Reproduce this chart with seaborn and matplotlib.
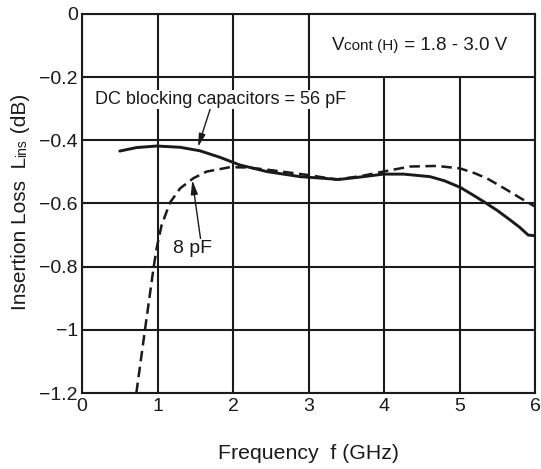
import matplotlib
matplotlib.use("Agg")
import matplotlib.pyplot as plt
import seaborn as sns
import pandas as pd
from matplotlib.patches import Rectangle

# ---- data ----
freq_56pF = [0.5, 0.72, 0.99, 1.3, 1.56, 1.83, 2.09, 2.45, 2.89, 3.24, 3.4, 3.73,
             3.99, 4.26, 4.61, 4.8, 5.01, 5.15, 5.32, 5.5, 5.67, 5.8, 5.91, 6.0]
loss_56pF = [-0.434, -0.423, -0.418, -0.422, -0.433, -0.454, -0.478, -0.499, -0.515,
             -0.521, -0.524, -0.515, -0.507, -0.507, -0.515, -0.528, -0.549, -0.569,
             -0.594, -0.622, -0.652, -0.676, -0.700, -0.702]
freq_8pF = [0.72, 0.834, 0.95, 0.99, 1.055, 1.166, 1.3, 1.475, 1.65, 1.96, 2.2, 2.49,
            3.0, 3.37, 3.7, 3.99, 4.34, 4.7, 5.01, 5.2, 5.36, 5.5, 5.67, 5.8, 5.93, 6.0]
loss_8pF = [-1.2, -1.0, -0.8, -0.74, -0.668, -0.597, -0.552, -0.520, -0.499, -0.485,
            -0.486, -0.494, -0.510, -0.524, -0.513, -0.499, -0.483, -0.481, -0.489,
            -0.504, -0.520, -0.539, -0.563, -0.582, -0.600, -0.610]
x_ticks = [0, 1, 2, 3, 4, 5, 6]
y_ticks = [0, -0.2, -0.4, -0.6, -0.8, -1.0, -1.2]
y_tick_labels = ["0", "\u22120.2", "\u22120.4", "\u22120.6", "\u22120.8", "\u22121", "\u22121.2"]

INK = "#1a1a1a"
W, H = 541, 469

sns.set_theme(style="white")
plt.rcParams["font.family"] = ["Liberation Sans", "DejaVu Sans"]

fig = plt.figure(figsize=(W / 100, H / 100), dpi=100)
ax = fig.add_axes([82 / W, 1 - 393 / H, 453 / W, 379 / H])

df56 = pd.DataFrame({"f": freq_56pF, "L": loss_56pF})
df8 = pd.DataFrame({"f": freq_8pF, "L": loss_8pF})
sns.lineplot(data=df56, x="f", y="L", ax=ax, color=INK, lw=2.1, zorder=5)
sns.lineplot(data=df8, x="f", y="L", ax=ax, color=INK, lw=1.8, zorder=5,
             linestyle=(0, (4.2, 2.2)))

ax.set_xlim(0, 6)
ax.set_ylim(-1.2, 0)
ax.set_xticks(x_ticks)
ax.set_xticklabels([str(t) for t in x_ticks])
ax.set_yticks(y_ticks)
ax.set_yticklabels(y_tick_labels)
ax.grid(True, color=INK, lw=1.5, zorder=1)
ax.set_axisbelow(True)
for s in ax.spines.values():
    s.set_color(INK)
    s.set_linewidth(1.5)
ax.tick_params(axis="both", length=0, labelsize=14, colors=INK)
ax.tick_params(axis="x", pad=3.5)
ax.tick_params(axis="y", pad=3)

# x label
ax.set_xlabel("Frequency  f (GHz)", fontsize=15.3, color=INK)
ax.xaxis.set_label_coords(0.501, (393 - 459) / 379)
ax.xaxis.label.set_va("baseline")
ax.set_ylabel("")

# y label built from pieces so the subscript sits on the baseline
t1 = fig.text(26 / W, (H - 310) / H, "Insertion Loss  L", rotation=90,
              rotation_mode="anchor", ha="left", va="baseline", fontsize=15, color=INK)
t2 = ax.annotate("ins", xy=(26 / W, 1.0), xycoords=("figure fraction", t1),
                 rotation=90, rotation_mode="anchor", ha="left", va="baseline",
                 fontsize=10, color=INK, annotation_clip=False)
ax.annotate(" (dB)", xy=(26 / W, 1.0), xycoords=("figure fraction", t2),
            rotation=90, rotation_mode="anchor", ha="left", va="baseline",
            fontsize=15, color=INK, annotation_clip=False)

# condition box in the upper right cell
ax.add_patch(Rectangle((3, -0.2), 3, 0.2, facecolor="white", edgecolor=INK,
                       lw=1.5, zorder=3, clip_on=False))
v1 = ax.text(3.311, -0.114, "V", fontsize=13.5, ha="left", va="baseline",
             zorder=4, color=INK)
v2 = ax.annotate("cont (H)", xy=(1.0, -0.114), xycoords=(v1, "data"), fontsize=11,
                 ha="left", va="baseline", zorder=4, color=INK)
ax.annotate(" = 1.8 - 3.0 V", xy=(1.0, -0.114), xycoords=(v2, "data"), fontsize=13.5,
            ha="left", va="baseline", zorder=4, color=INK)

# annotations with arrows
arrow = dict(arrowstyle="-|>,head_length=0.6,head_width=0.15", color=INK, lw=1.0,
             shrinkA=0, shrinkB=0)
ax.annotate("DC blocking capacitors = 56 pF", xy=(1.536, -0.421), xytext=(0.172, -0.285),
            fontsize=13, ha="left", va="baseline", color=INK, zorder=4,
            bbox=dict(boxstyle="square,pad=0.05", fc="white", ec="none"),
            arrowprops=dict(arrow, relpos=(0.46, 0.0)))
ax.annotate("8 pF", xy=(1.461, -0.526), xytext=(1.464, -0.757),
            fontsize=14, ha="center", va="baseline", color=INK, zorder=4,
            bbox=dict(boxstyle="square,pad=0.05", fc="white", ec="none"),
            arrowprops=dict(arrow, relpos=(0.71, 1.0)))

fig.savefig("out.png", dpi=100)
